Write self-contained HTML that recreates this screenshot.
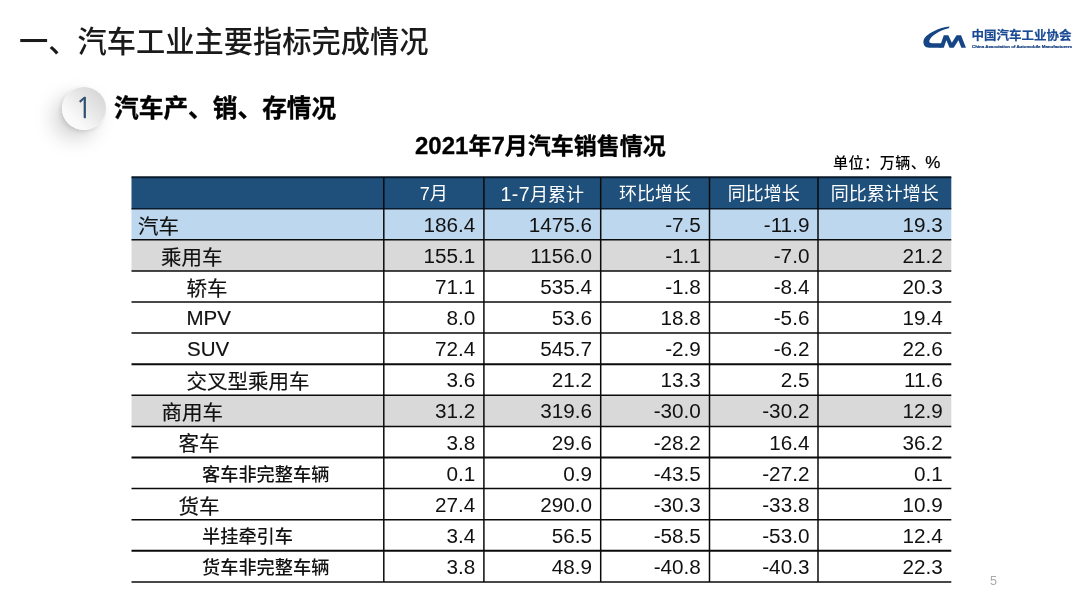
<!DOCTYPE html>
<html lang="zh-CN"><head><meta charset="utf-8"><title>汽车工业主要指标完成情况</title>
<style>
html,body{margin:0;padding:0;background:#fff;}
body{width:1080px;height:608px;position:relative;overflow:hidden;font-family:"Liberation Sans","Noto Sans CJK SC",sans-serif;color:#111;}
.abs{position:absolute;white-space:nowrap;}
.h1{left:19px;top:22px;font-size:29.25px;line-height:40px;color:#1a1a1a;font-weight:500;}
.h2{left:114px;top:91px;font-size:24.7px;line-height:36px;font-weight:bold;color:#000;-webkit-text-stroke:.35px #000;}
.ball{left:61.5px;top:87px;width:44px;height:43px;border-radius:50%;background:linear-gradient(225deg,#cfcfcf 0%,#e6e6e6 40%,#f8f8f8 70%,#ffffff 100%);box-shadow:-9px 9px 20px 0 rgba(0,0,0,.17), -2px 2px 4px rgba(0,0,0,.10);}
.one{left:62.5px;top:87px;width:43px;height:43px;line-height:43px;text-align:center;font-size:28px;color:#2f5071;font-family:"NanumGothic","Liberation Sans",sans-serif;-webkit-text-stroke:.3px #2f5071;}
.ttl{left:415px;top:130px;font-size:23px;line-height:32px;font-weight:bold;color:#000;-webkit-text-stroke:.3px #000;}
.ttl i{font-style:normal;font-size:24px;}
.unit{left:833px;top:152.6px;font-size:15px;line-height:20px;color:#000;letter-spacing:.55px;font-weight:500;}
.unit i{font-style:normal;font-size:17px;font-weight:400;letter-spacing:0;margin-left:-1px;-webkit-text-stroke:.25px #000;}
.hd{position:absolute;color:#fff;font-size:18px;text-align:center;line-height:31px;white-space:nowrap;}
.hd i{font-style:normal;font-size:19.5px;letter-spacing:.4px;}
.lb{position:absolute;white-space:nowrap;line-height:31px;color:#111;-webkit-text-stroke:.18px #111;}
.s{font-weight:500;-webkit-text-stroke:0;}
.nm{position:absolute;white-space:nowrap;line-height:31px;font-size:20.7px;text-align:right;color:#111;}
.pg{left:990px;top:572.7px;font-size:12.5px;line-height:16px;color:#aaa;}
.lgt{left:971.5px;top:26.8px;font-size:12.5px;line-height:18px;font-weight:bold;color:#1a4a95;-webkit-text-stroke:.2px #1a4a95;}
.lge{left:971.5px;top:43.7px;font-size:10px;line-height:10px;font-weight:bold;color:#173f80;-webkit-text-stroke:.5px #173f80;transform-origin:0 0;transform:scale(.438);}
</style></head><body>
<div class="abs h1">一、汽车工业主要指标完成情况</div>
<div class="abs ball"></div><div class="abs one">1</div>
<div class="abs h2">汽车产、销、存情况</div>
<div class="abs ttl"><i>2021</i>年<i>7</i>月汽车销售情况</div>
<div class="abs unit">单位：万辆、<i>%</i></div>
<svg class="abs" style="left:915px;top:20px" width="60" height="35" viewBox="0 0 1042 608">
<path fill="#164585" d="M602,113 C430,128 168,240 147,365 C139,440 180,480 245,480 L455,480 L478,404 L300,404 C255,404 240,384 252,352 C278,285 410,178 586,142 Z"/>
<path fill="#164585" d="M425,480 L500,265 L578,265 L640,395 L722,265 L800,265 L885,480 L805,480 L755,350 L672,480 L600,480 L545,350 L500,480 Z"/>
</svg>
<div class="abs lgt">中国汽车工业协会</div>
<div class="abs lge">China Association of Automobile Manufacturers</div>
<svg class="abs" style="left:0;top:0" width="1080" height="608" viewBox="0 0 1080 608">
<rect x="131.5" y="177.2" width="819.8" height="31.5" fill="#1f507b"/>
<rect x="131.5" y="208.7" width="819.8" height="31.1" fill="#bdd7ee"/>
<rect x="131.5" y="239.8" width="819.8" height="31.1" fill="#d9d9d9"/>
<rect x="131.5" y="395.3" width="819.8" height="31.1" fill="#d9d9d9"/>
<line x1="131.5" y1="177.2" x2="951.3" y2="177.2" stroke="#0b1a2b" stroke-width="2.0"/>
<line x1="131.5" y1="208.7" x2="951.3" y2="208.7" stroke="#0b1a2b" stroke-width="1.5"/>
<line x1="131.5" y1="239.8" x2="951.3" y2="239.8" stroke="#0a0a0a" stroke-width="1.5"/>
<line x1="131.5" y1="270.9" x2="951.3" y2="270.9" stroke="#0a0a0a" stroke-width="1.5"/>
<line x1="131.5" y1="302" x2="951.3" y2="302" stroke="#0a0a0a" stroke-width="1.5"/>
<line x1="131.5" y1="333.1" x2="951.3" y2="333.1" stroke="#0a0a0a" stroke-width="1.5"/>
<line x1="131.5" y1="364.2" x2="951.3" y2="364.2" stroke="#0a0a0a" stroke-width="1.9"/>
<line x1="131.5" y1="395.3" x2="951.3" y2="395.3" stroke="#0a0a0a" stroke-width="1.5"/>
<line x1="131.5" y1="426.4" x2="951.3" y2="426.4" stroke="#0a0a0a" stroke-width="1.5"/>
<line x1="131.5" y1="457.5" x2="951.3" y2="457.5" stroke="#0a0a0a" stroke-width="1.8"/>
<line x1="131.5" y1="488.6" x2="951.3" y2="488.6" stroke="#0a0a0a" stroke-width="1.5"/>
<line x1="131.5" y1="519.7" x2="951.3" y2="519.7" stroke="#0a0a0a" stroke-width="1.5"/>
<line x1="131.5" y1="550.8" x2="951.3" y2="550.8" stroke="#0a0a0a" stroke-width="2.0"/>
<line x1="131.5" y1="581.9" x2="951.3" y2="581.9" stroke="#0a0a0a" stroke-width="1.5"/>
<line x1="383.8" y1="177.2" x2="383.8" y2="581.9" stroke="#0a0a0a" stroke-width="1.5"/>
<line x1="483.9" y1="177.2" x2="483.9" y2="581.9" stroke="#0a0a0a" stroke-width="1.5"/>
<line x1="600.7" y1="177.2" x2="600.7" y2="581.9" stroke="#0a0a0a" stroke-width="1.5"/>
<line x1="709.5" y1="177.2" x2="709.5" y2="581.9" stroke="#0a0a0a" stroke-width="1.5"/>
<line x1="818" y1="177.2" x2="818" y2="581.9" stroke="#0a0a0a" stroke-width="1.5"/>
</svg>
<div class="hd" style="left:383.8px;top:179.35px;width:100.1px">7月</div>
<div class="hd" style="left:483.9px;top:179.35px;width:116.8px"><i>1-7</i>月累计</div>
<div class="hd" style="left:600.7px;top:179.35px;width:108.8px">环比增长</div>
<div class="hd" style="left:709.5px;top:179.35px;width:108.5px">同比增长</div>
<div class="hd" style="left:818px;top:179.35px;width:133.3px">同比累计增长</div>
<div class="lb" style="left:138px;top:210.65px;font-size:20.5px">汽车</div>
<div class="nm" style="left:383.8px;top:208.85px;width:91.5px">186.4</div>
<div class="nm" style="left:483.9px;top:208.85px;width:108.2px">1475.6</div>
<div class="nm" style="left:600.7px;top:208.85px;width:100.2px">-7.5</div>
<div class="nm" style="left:709.5px;top:208.85px;width:99.9px">-11.9</div>
<div class="nm" style="left:818px;top:208.85px;width:124.7px">19.3</div>
<div class="lb" style="left:161px;top:241.75px;font-size:20.5px">乘用车</div>
<div class="nm" style="left:383.8px;top:239.95px;width:91.5px">155.1</div>
<div class="nm" style="left:483.9px;top:239.95px;width:108.2px">1156.0</div>
<div class="nm" style="left:600.7px;top:239.95px;width:100.2px">-1.1</div>
<div class="nm" style="left:709.5px;top:239.95px;width:99.9px">-7.0</div>
<div class="nm" style="left:818px;top:239.95px;width:124.7px">21.2</div>
<div class="lb" style="left:186.5px;top:272.85px;font-size:20.5px">轿车</div>
<div class="nm" style="left:383.8px;top:271.05px;width:91.5px">71.1</div>
<div class="nm" style="left:483.9px;top:271.05px;width:108.2px">535.4</div>
<div class="nm" style="left:600.7px;top:271.05px;width:100.2px">-1.8</div>
<div class="nm" style="left:709.5px;top:271.05px;width:99.9px">-8.4</div>
<div class="nm" style="left:818px;top:271.05px;width:124.7px">20.3</div>
<div class="lb" style="left:186.5px;top:302.15px;font-size:20.5px">MPV</div>
<div class="nm" style="left:383.8px;top:302.15px;width:91.5px">8.0</div>
<div class="nm" style="left:483.9px;top:302.15px;width:108.2px">53.6</div>
<div class="nm" style="left:600.7px;top:302.15px;width:100.2px">18.8</div>
<div class="nm" style="left:709.5px;top:302.15px;width:99.9px">-5.6</div>
<div class="nm" style="left:818px;top:302.15px;width:124.7px">19.4</div>
<div class="lb" style="left:187px;top:333.25px;font-size:20.5px">SUV</div>
<div class="nm" style="left:383.8px;top:333.25px;width:91.5px">72.4</div>
<div class="nm" style="left:483.9px;top:333.25px;width:108.2px">545.7</div>
<div class="nm" style="left:600.7px;top:333.25px;width:100.2px">-2.9</div>
<div class="nm" style="left:709.5px;top:333.25px;width:99.9px">-6.2</div>
<div class="nm" style="left:818px;top:333.25px;width:124.7px">22.6</div>
<div class="lb" style="left:186.5px;top:366.15px;font-size:20.5px">交叉型乘用车</div>
<div class="nm" style="left:383.8px;top:364.35px;width:91.5px">3.6</div>
<div class="nm" style="left:483.9px;top:364.35px;width:108.2px">21.2</div>
<div class="nm" style="left:600.7px;top:364.35px;width:100.2px">13.3</div>
<div class="nm" style="left:709.5px;top:364.35px;width:99.9px">2.5</div>
<div class="nm" style="left:818px;top:364.35px;width:124.7px">11.6</div>
<div class="lb" style="left:161.5px;top:397.25px;font-size:20.5px">商用车</div>
<div class="nm" style="left:383.8px;top:395.45px;width:91.5px">31.2</div>
<div class="nm" style="left:483.9px;top:395.45px;width:108.2px">319.6</div>
<div class="nm" style="left:600.7px;top:395.45px;width:100.2px">-30.0</div>
<div class="nm" style="left:709.5px;top:395.45px;width:99.9px">-30.2</div>
<div class="nm" style="left:818px;top:395.45px;width:124.7px">12.9</div>
<div class="lb" style="left:178.5px;top:428.35px;font-size:20.5px">客车</div>
<div class="nm" style="left:383.8px;top:426.55px;width:91.5px">3.8</div>
<div class="nm" style="left:483.9px;top:426.55px;width:108.2px">29.6</div>
<div class="nm" style="left:600.7px;top:426.55px;width:100.2px">-28.2</div>
<div class="nm" style="left:709.5px;top:426.55px;width:99.9px">16.4</div>
<div class="nm" style="left:818px;top:426.55px;width:124.7px">36.2</div>
<div class="lb s" style="left:202px;top:459.95px;font-size:18.2px">客车非完整车辆</div>
<div class="nm" style="left:383.8px;top:457.65px;width:91.5px">0.1</div>
<div class="nm" style="left:483.9px;top:457.65px;width:108.2px">0.9</div>
<div class="nm" style="left:600.7px;top:457.65px;width:100.2px">-43.5</div>
<div class="nm" style="left:709.5px;top:457.65px;width:99.9px">-27.2</div>
<div class="nm" style="left:818px;top:457.65px;width:124.7px">0.1</div>
<div class="lb" style="left:178.5px;top:490.55px;font-size:20.5px">货车</div>
<div class="nm" style="left:383.8px;top:488.75px;width:91.5px">27.4</div>
<div class="nm" style="left:483.9px;top:488.75px;width:108.2px">290.0</div>
<div class="nm" style="left:600.7px;top:488.75px;width:100.2px">-30.3</div>
<div class="nm" style="left:709.5px;top:488.75px;width:99.9px">-33.8</div>
<div class="nm" style="left:818px;top:488.75px;width:124.7px">10.9</div>
<div class="lb s" style="left:202px;top:522.15px;font-size:18.2px">半挂牵引车</div>
<div class="nm" style="left:383.8px;top:519.85px;width:91.5px">3.4</div>
<div class="nm" style="left:483.9px;top:519.85px;width:108.2px">56.5</div>
<div class="nm" style="left:600.7px;top:519.85px;width:100.2px">-58.5</div>
<div class="nm" style="left:709.5px;top:519.85px;width:99.9px">-53.0</div>
<div class="nm" style="left:818px;top:519.85px;width:124.7px">12.4</div>
<div class="lb s" style="left:202px;top:553.25px;font-size:18.2px">货车非完整车辆</div>
<div class="nm" style="left:383.8px;top:550.95px;width:91.5px">3.8</div>
<div class="nm" style="left:483.9px;top:550.95px;width:108.2px">48.9</div>
<div class="nm" style="left:600.7px;top:550.95px;width:100.2px">-40.8</div>
<div class="nm" style="left:709.5px;top:550.95px;width:99.9px">-40.3</div>
<div class="nm" style="left:818px;top:550.95px;width:124.7px">22.3</div>
<div class="abs pg">5</div>
</body></html>
